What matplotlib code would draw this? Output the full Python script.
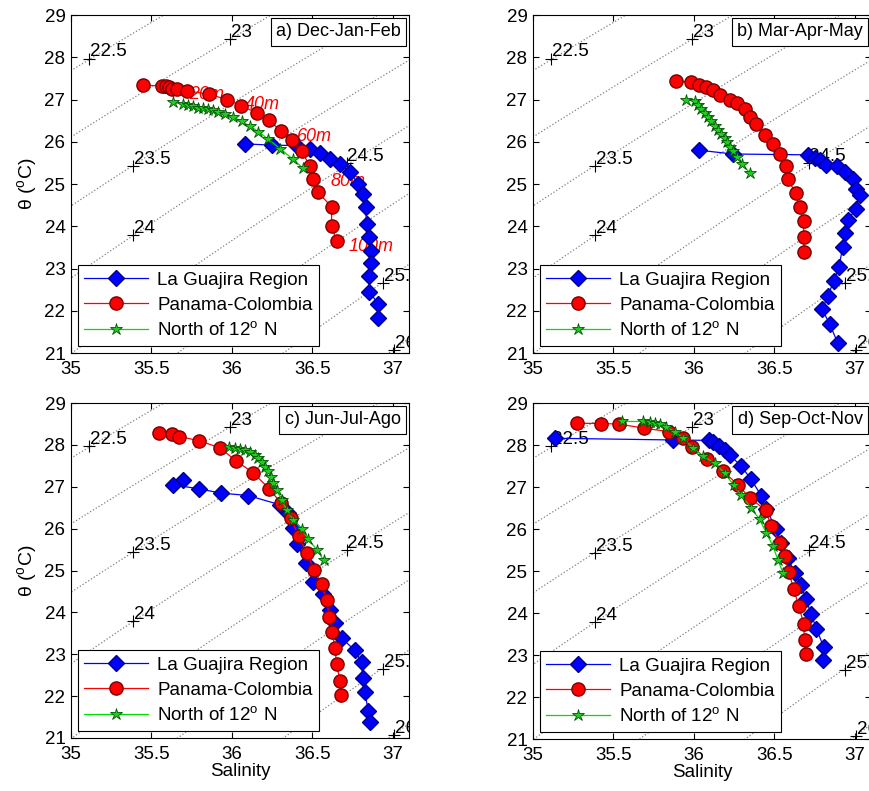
import numpy as np
import matplotlib.pyplot as plt
from matplotlib.transforms import offset_copy

plt.rcParams['font.family'] = ['Liberation Sans', 'DejaVu Sans']
plt.rcParams['mathtext.fontset'] = 'custom'
plt.rcParams['mathtext.rm'] = 'Liberation Sans'

# seasons (panel titles)
seasons = ['a) Dec-Jan-Feb', 'b) Mar-Apr-May', 'c) Jun-Jul-Ago', 'd) Sep-Oct-Nov']
series_names = ['La Guajira Region', 'Panama-Colombia', 'North of 12$^{\\rm o}$ N']

# La Guajira Region (blue diamonds)
guaj_s_djf = [36.081, 36.246, 36.402, 36.484, 36.547, 36.609, 36.671, 36.733, 36.785, 36.816,
              36.83, 36.836, 36.853, 36.863, 36.867, 36.851, 36.853, 36.909, 36.905]
guaj_t_djf = [25.95, 25.92, 25.91, 25.83, 25.73, 25.58, 25.47, 25.29, 24.99, 24.76,
              24.46, 24.05, 23.75, 23.42, 23.12, 22.82, 22.45, 22.16, 21.84]
guaj_s_mam = [36.031, 36.242, 36.708, 36.749, 36.781, 36.818, 36.888, 36.936, 36.988, 37.008,
              37.029, 37.004, 36.957, 36.936, 36.925, 36.901, 36.87, 36.832, 36.797, 36.843, 36.894]
guaj_t_mam = [25.80, 25.71, 25.69, 25.61, 25.57, 25.45, 25.43, 25.29, 25.11, 24.87,
              24.74, 24.40, 24.15, 23.83, 23.52, 23.04, 22.71, 22.36, 22.03, 21.69, 21.23]
guaj_s_jja = [35.694, 35.631, 35.795, 35.93, 36.101, 36.298, 36.35, 36.381, 36.406, 36.46,
              36.505, 36.563, 36.609, 36.64, 36.681, 36.764, 36.805, 36.812, 36.826, 36.847, 36.857]
guaj_t_jja = [27.15, 27.05, 26.95, 26.85, 26.79, 26.57, 26.37, 26.01, 25.64, 25.19,
              24.72, 24.45, 24.06, 23.75, 23.39, 23.09, 22.81, 22.43, 22.09, 21.64, 21.38]
guaj_s_son = [35.135, 35.87, 36.093, 36.118, 36.155, 36.19, 36.222, 36.294, 36.356, 36.418,
              36.449, 36.511, 36.542, 36.584, 36.625, 36.667, 36.694, 36.729, 36.76, 36.805, 36.801]
guaj_t_son = [28.16, 28.12, 28.11, 28.06, 27.98, 27.89, 27.77, 27.49, 27.18, 26.79,
              26.47, 26.01, 25.67, 25.30, 24.96, 24.66, 24.34, 23.97, 23.63, 23.20, 22.87]

# Panama-Colombia (red circles)
pana_s_djf = [35.445, 35.567, 35.588, 35.609, 35.629, 35.656, 35.718, 35.859, 35.971, 36.054,
              36.153, 36.232, 36.304, 36.371, 36.433, 36.484, 36.505, 36.536, 36.619, 36.619, 36.65]
pana_t_djf = [27.34, 27.32, 27.31, 27.29, 27.26, 27.24, 27.21, 27.12, 27.0, 26.85,
              26.69, 26.51, 26.25, 26.03, 25.77, 25.43, 25.13, 24.80, 24.46, 24.01, 23.64]
pana_s_mam = [35.89, 35.979, 36.031, 36.077, 36.118, 36.164, 36.222, 36.267, 36.315, 36.35,
              36.387, 36.439, 36.491, 36.536, 36.573, 36.584, 36.631, 36.656, 36.681, 36.683, 36.683]
pana_t_mam = [27.44, 27.41, 27.34, 27.29, 27.22, 27.11, 27.0, 26.91, 26.77, 26.58,
              26.41, 26.16, 25.94, 25.71, 25.43, 25.11, 24.79, 24.46, 24.12, 23.75, 23.38]
pana_s_jja = [35.549, 35.625, 35.673, 35.795, 35.925, 36.025, 36.133, 36.232, 36.304, 36.364,
              36.416, 36.464, 36.511, 36.557, 36.588, 36.605, 36.623, 36.64, 36.65, 36.671, 36.675]
pana_t_jja = [28.28, 28.26, 28.20, 28.10, 27.93, 27.62, 27.33, 26.95, 26.61, 26.25,
              25.82, 25.42, 25.02, 24.68, 24.29, 23.90, 23.52, 23.15, 22.77, 22.37, 22.03]
pana_s_son = [35.275, 35.42, 35.534, 35.689, 35.843, 35.932, 35.99, 36.083, 36.181, 36.273,
              36.35, 36.445, 36.48, 36.532, 36.563, 36.59, 36.619, 36.652, 36.681, 36.687, 36.694]
pana_t_son = [28.52, 28.51, 28.50, 28.40, 28.32, 28.16, 27.95, 27.66, 27.38, 27.05,
              26.73, 26.45, 26.07, 25.67, 25.35, 24.98, 24.57, 24.16, 23.75, 23.36, 23.03]

# North of 12 N (green stars)
north_s_djf = [35.631, 35.694, 35.729, 35.76, 35.791, 35.822, 35.853, 35.884, 35.915, 35.957,
               36.008, 36.06, 36.112, 36.164, 36.226, 36.298, 36.381, 36.443]
north_t_djf = [26.93, 26.89, 26.86, 26.84, 26.81, 26.79, 26.77, 26.74, 26.70, 26.66,
               26.59, 26.48, 26.37, 26.24, 26.06, 25.84, 25.58, 25.37]
north_s_mam = [35.952, 36.004, 36.025, 36.046, 36.066, 36.087, 36.108, 36.128, 36.149, 36.17,
               36.19, 36.207, 36.222, 36.242, 36.267, 36.298, 36.346]
north_t_mam = [27.0, 26.96, 26.87, 26.77, 26.67, 26.58, 26.48, 26.37, 26.28, 26.18,
               26.10, 26.0, 25.88, 25.77, 25.65, 25.47, 25.27]
north_s_jja = [35.983, 36.019, 36.05, 36.081, 36.112, 36.143, 36.164, 36.184, 36.205, 36.226,
               36.242, 36.257, 36.277, 36.308, 36.34, 36.381, 36.433, 36.474, 36.526, 36.571]
north_t_jja = [27.95, 27.93, 27.91, 27.885, 27.82, 27.77, 27.69, 27.58, 27.47, 27.37,
               27.23, 27.09, 26.93, 26.69, 26.45, 26.21, 25.99, 25.75, 25.50, 25.24]
north_s_son = [35.555, 35.683, 35.725, 35.756, 35.787, 35.828, 35.88, 35.932, 35.994, 36.056,
               36.128, 36.19, 36.246, 36.294, 36.356, 36.408, 36.449, 36.491, 36.522, 36.553]
north_t_son = [28.56, 28.56, 28.55, 28.52, 28.51, 28.43, 28.32, 28.16, 27.93, 27.73,
               27.57, 27.33, 27.05, 26.81, 26.49, 26.23, 25.91, 25.59, 25.26, 24.96]

# isopycnal levels and their labels
sigma_levels = [22.0, 22.5, 23.0, 23.5, 24.0, 24.5, 25.0, 25.5, 26.0]
label_text = ['22.5', '23', '23.5', '24', '24.5', '25.5', '26']
label_s = [35.114, 35.988, 35.387, 35.387, 36.712, 36.94, 37.008]
label_t = [27.97, 28.43, 25.43, 23.79, 25.49, 22.65, 21.07]

# depth labels (panel a only)
depth_text = ['0m', '20m', '40m', '60m', '80m', '100m']
depth_s = [35.625, 35.843, 36.188, 36.515, 36.723, 36.867]
depth_t = [27.24, 27.11, 26.87, 26.12, 25.06, 23.52]


def sigma0(S, T):
    # UNESCO EOS-80 density at surface pressure, minus 1000
    rw = (999.842594 + 6.793952e-2 * T - 9.095290e-3 * T**2 + 1.001685e-4 * T**3
          - 1.120083e-6 * T**4 + 6.536332e-9 * T**5)
    a = 0.824493 - 4.0899e-3 * T + 7.6438e-5 * T**2 - 8.2467e-7 * T**3 + 5.3875e-9 * T**4
    b = -5.72466e-3 + 1.0227e-4 * T - 1.6546e-6 * T**2
    return rw + a * S + b * S**1.5 + 4.8314e-4 * S**2 - 1000.0


guaj = [(guaj_s_djf, guaj_t_djf), (guaj_s_mam, guaj_t_mam), (guaj_s_jja, guaj_t_jja), (guaj_s_son, guaj_t_son)]
pana = [(pana_s_djf, pana_t_djf), (pana_s_mam, pana_t_mam), (pana_s_jja, pana_t_jja), (pana_s_son, pana_t_son)]
north = [(north_s_djf, north_t_djf), (north_s_mam, north_t_mam), (north_s_jja, north_t_jja), (north_s_son, north_t_son)]

fig = plt.figure(figsize=(8.69, 7.91), dpi=100)
W, H = 869.0, 791.0
boxes = [(71, 15, 338, 338), (533, 15, 338, 338), (71, 403, 338, 335), (533, 403, 338, 336)]

SS, TT = np.meshgrid(np.linspace(34.9, 37.3, 240), np.linspace(20.5, 29.5, 240))
DD = sigma0(SS, TT)

for i in range(4):
    x0, y0, w, h = boxes[i]
    ax = fig.add_axes([x0 / W, 1 - (y0 + h) / H, w / W, h / H])

    ax.contour(SS, TT, DD, levels=sigma_levels, colors='0.5', linestyles=':', linewidths=0.9)
    lab_tr = offset_copy(ax.transData, fig=fig, x=0.5, y=1.5, units='points')
    for txt, s, t in zip(label_text, label_s, label_t):
        ax.plot(s, t, '+', color='k', ms=8, mew=0.8)
        ax.text(s, t, txt, transform=lab_tr, ha='left', va='baseline', fontsize=13.5, clip_on=True)

    if i == 0:
        for txt, s, t in zip(depth_text, depth_s, depth_t):
            ax.text(s, t, txt, color='red', fontsize=13, style='italic',
                    ha='center', va='center', zorder=1.5)

    l1, = ax.plot(guaj[i][0], guaj[i][1], '-D', color='#0000ff', mfc='#0000ff', mec='#00008b',
                  ms=8, lw=0.9, zorder=3)
    l2, = ax.plot(pana[i][0], pana[i][1], '-o', color='#ff0000', mfc='#ff0000', mec='#7a0000',
                  ms=9.5, lw=0.9, zorder=3)
    l3, = ax.plot(north[i][0], north[i][1], '-*', color='#00dd00', mfc='#22cc22', mec='#005500',
                  ms=9, lw=0.9, mew=0.6, zorder=3)

    ax.set_xlim(35, 37.1)
    ax.set_ylim(21, 29)
    ax.set_xticks([35, 35.5, 36, 36.5, 37])
    ax.set_xticklabels(['35', '35.5', '36', '36.5', '37'])
    ax.set_yticks(range(21, 30))
    ax.tick_params(direction='in', top=True, right=True, labelsize=13.5, length=4)
    ax.tick_params(axis='x', pad=6)
    ax.tick_params(axis='y', pad=4)

    ax.text(0.976, 0.975, seasons[i], transform=ax.transAxes, ha='right', va='top', fontsize=13,
            bbox=dict(boxstyle='square,pad=0.3', fc='white', ec='k', lw=0.8), zorder=5)

    leg = ax.legend([l1, l2, l3], series_names, loc='lower left', fontsize=13.5, handlelength=3.4,
                    fancybox=False, edgecolor='k', framealpha=1, borderaxespad=0.35,
                    labelspacing=0.4, borderpad=0.35, handletextpad=0.5)
    leg.get_frame().set_linewidth(0.8)
    leg.set_zorder(6)

    if i % 2 == 0:
        ax.set_ylabel('θ ($^{\\rm o}$C)', fontsize=14, labelpad=3)
    if i >= 2:
        ax.set_xlabel('Salinity', fontsize=13.5, labelpad=0)

fig.savefig('out.png', dpi=100)
